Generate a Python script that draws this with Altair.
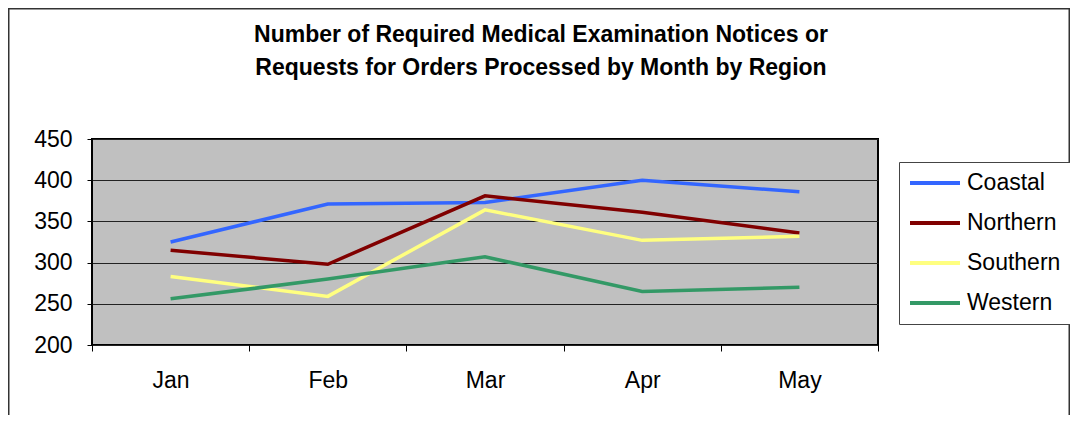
import altair as alt
import pandas as pd

months = ["Jan", "Feb", "Mar", "Apr", "May"]
regions = ["Coastal", "Northern", "Southern", "Western"]
coastal = [325, 371, 373, 400, 386]
northern = [315, 298, 381, 361, 336]
southern = [283, 259, 364, 327, 332]
western = [256, 280, 307, 265, 270]
colors = ["#3366FF", "#800000", "#FFFF80", "#339966"]
y_ticks = [200, 250, 300, 350, 400, 450]
title_lines = ["Number of Required Medical Examination Notices or",
               "Requests for Orders Processed by Month by Region"]

rows = []
for name, vals in zip(regions, [coastal, northern, southern, western]):
    for m, v in zip(months, vals):
        rows.append({"month": m, "region": name, "value": v})
df = pd.DataFrame(rows)

FONT = "Liberation Sans"
W, H = 786, 206
PL, PT, PR, PB = 84, 131, 192, 70

lines = alt.Chart(df).mark_line(strokeWidth=3.5).encode(
    x=alt.X("month:N", sort=months, bandPosition=0.5,
            scale=alt.Scale(type="band", paddingInner=0, paddingOuter=0),
            axis=alt.Axis(title=None, labelAngle=0, tickBand="extent", domain=False,
                          ticks=True, tickSize=6, tickColor="#000", tickWidth=1,
                          labelFont=FONT, labelFontSize=23, labelColor="#000",
                          labelPadding=18, grid=False)),
    y=alt.Y("value:Q", scale=alt.Scale(domain=[200, 450], nice=False, zero=False),
            axis=alt.Axis(title=None, values=y_ticks, domain=False, tickSize=5,
                          tickColor="#000", labelFont=FONT, labelFontSize=23,
                          labelColor="#000", labelPadding=15, grid=True,
                          gridColor="#222", gridWidth=1)),
    color=alt.Color("region:N", sort=regions,
                    scale=alt.Scale(domain=regions, range=colors),
                    legend=alt.Legend(title=None, orient="none", legendX=807, legendY=23,
                                      symbolType="stroke", symbolSize=2500,
                                      symbolStrokeWidth=4, labelFont=FONT,
                                      labelFontSize=23, labelColor="#000",
                                      labelOffset=5, padding=9, strokeColor="#444",
                                      fillColor="#FFFFFF", clipHeight=24,
                                      rowPadding=16, labelLimit=200)),
)

frame = alt.Chart(alt.Data(values=[{"a": 1}])).mark_rect(
    fill=None, stroke="#333", strokeWidth=1.5, clip=False
).encode(
    x=alt.value(-PL + 0.75), x2=alt.value(W + PR - 0.75),
    y=alt.value(-PT + 0.75), y2=alt.value(H + PB + 20),
)

title = alt.Chart(alt.Data(values=[{"t": "\n".join(title_lines)}])).mark_text(
    font=FONT, fontSize=23, fontWeight="bold", color="#000",
    align="center", baseline="middle", lineBreak="\n", lineHeight=33,
).encode(
    x=alt.value(449), y=alt.value(-104), text="t:N",
)

chart = alt.layer(frame, lines, title).properties(
    width=W, height=H,
    padding={"left": PL, "top": PT, "right": PR, "bottom": PB},
    autosize=alt.AutoSizeParams(type="none"),
).configure_view(fill="#C0C0C0", stroke="#000", strokeWidth=2)

chart.save("out.html", embed_options={"renderer": "svg", "actions": False})
